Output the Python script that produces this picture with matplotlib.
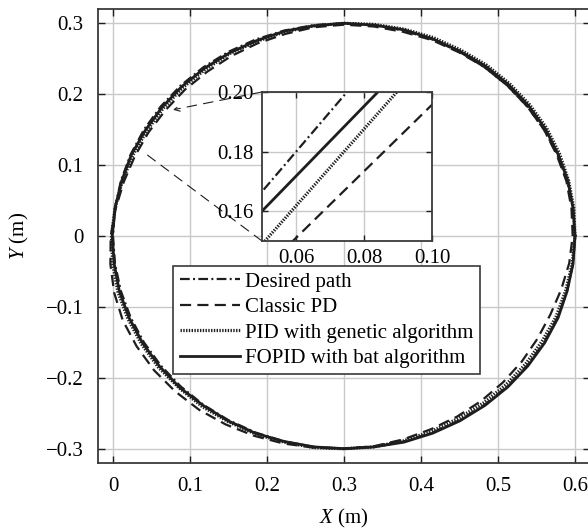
import numpy as np
import matplotlib
matplotlib.use("Agg")
import matplotlib.pyplot as plt
from matplotlib.ticker import FixedLocator, FuncFormatter

plt.rcParams.update({
    "font.family": ["Liberation Serif", "DejaVu Serif"],
    "font.size": 15,
    "mathtext.fontset": "custom",
    "mathtext.rm": "Liberation Serif",
    "mathtext.it": "Liberation Serif:italic",
    "axes.unicode_minus": True,
    "lines.scale_dashes": False,
})

# ---- reference circle ----
center_x, center_y = 0.30, 0.00
desired_radius = 0.30
angle_step_deg = 7.5  # sampling step of the tracked paths (counter-clockwise from +X)

# ---- radial tracking error of each controller, mm, one value per sample angle ----
pd_error_mm = [-3, -2, -1, -1, 0, 0, 0, 0, -1, -1, -2, -2,
               -2, -3, -5, -6, -7, -8, -8, -8, -7, -6, -4, -1,
               3, 6, 9, 11, 11, 11, 10, 9, 7, 5, 3, 1,
               0, -1, -3, -5, -6, -7, -8, -9, -10, -10, -8, -5]
ga_pid_error_mm = [0, 1, 2, 3, 4, 4, 4, 4, 3, 3, 2, 1,
                   0, -1, -2, -3, -3, -4, -4, -4, -4, -3, -2, 0,
                   2, 3, 4, 4, 4, 4, 3, 3, 2, 2, 1, 1,
                   0, 0, -1, -2, -3, -3, -3, -3, -3, -2, -2, -1]
bat_fopid_error_mm = [0, 0, 1, 1, 2, 2, 2, 2, 1, 1, 1, 0,
                      0, -1, -1, -2, -2, -2, -2, -2, -2, -1, -1, 0,
                      1, 1, 2, 2, 2, 2, 2, 1, 1, 1, 0, 0,
                      0, 0, 1, 1, 1, 1, 1, 1, 1, 1, 0, 0]

# ---- zoom window: path heights at the window's side positions ----
zoom_x = [0.04, 0.11]
zoom_desired_y = [0.1532, 0.2468]
zoom_pd_y = [0.1287, 0.2069]
zoom_ga_pid_y = [0.1360, 0.2262]
zoom_bat_fopid_y = [0.1483, 0.2304]

labels = ["Desired path", "Classic PD",
          "PID with genetic algorithm", "FOPID with bat algorithm"]

x_ticks = [0, 0.1, 0.2, 0.3, 0.4, 0.5, 0.6]
y_ticks = [-0.3, -0.2, -0.1, 0, 0.1, 0.2, 0.3]
zoom_x_ticks = [0.06, 0.08, 0.10]
zoom_y_ticks = [0.16, 0.18, 0.20]

ink = "#1e1e1e"
grid_c = "#c9c9c9"
styles = [
    dict(lw=1.6, ls=(0, (7.0, 2.4, 1.4, 2.4))),
    dict(lw=1.6, ls=(0, (8.0, 4.5))),
    dict(lw=2.3, ls=(0, (1.0, 1.0)), dash_capstyle="butt"),
    dict(lw=2.0, ls="-"),
]


def closed_path(error_mm):
    err = np.asarray(error_mm, dtype=float) / 1000.0
    theta = np.deg2rad(np.arange(len(err)) * angle_step_deg)
    r = desired_radius + err
    x = center_x + r * np.cos(theta)
    y = center_y + r * np.sin(theta)
    return np.append(x, x[0]), np.append(y, y[0])


paths = [closed_path(np.zeros(len(pd_error_mm))),
         closed_path(pd_error_mm),
         closed_path(ga_pid_error_mm),
         closed_path(bat_fopid_error_mm)]


def fmt_main(v, pos):
    s = "%g" % round(v, 3)
    return s.replace("-", "\u2212")


fig = plt.figure(figsize=(5.88, 5.29), dpi=100)
ax = fig.add_axes([97.6 / 588, 66.1 / 529, 492.8 / 588, 453.8 / 529])

for (x, y), st, lab in zip(paths, styles, labels):
    ax.plot(x, y, color=ink, label=lab, **st)

ax.set_xlim(-0.02, 0.62)
ax.set_ylim(-0.32, 0.32)
ax.xaxis.set_major_locator(FixedLocator(x_ticks))
ax.yaxis.set_major_locator(FixedLocator(y_ticks))
ax.xaxis.set_major_formatter(FuncFormatter(fmt_main))
ax.yaxis.set_major_formatter(FuncFormatter(fmt_main))
ax.tick_params(direction="in", length=5, width=1.0, color=ink, pad=10,
               top=True, right=True, labelsize=15)
ax.grid(True, color=grid_c, lw=1.0)
ax.set_axisbelow(True)
for sp in ax.spines.values():
    sp.set_color("#3a3a3a")
    sp.set_linewidth(1.3)
ax.set_xlabel(r"$\mathit{X}$ (m)", fontsize=15, labelpad=8)
ax.set_ylabel(r"$\mathit{Y}$ (m)", fontsize=15, labelpad=11)

leg = ax.legend(loc="upper left", bbox_to_anchor=(0.154, 0.434),
                borderaxespad=0, fancybox=False, frameon=True,
                edgecolor="#3a3a3a", framealpha=1, fontsize=15,
                handlelength=2.9, handletextpad=0.25, labelspacing=0.28,
                borderpad=0.3)
leg.get_frame().set_linewidth(1.2)

# ---- zoomed window ----
axin = fig.add_axes([262 / 588, 288 / 529, 170 / 588, 149 / 529])
for ys, st in zip([zoom_desired_y, zoom_pd_y, zoom_ga_pid_y, zoom_bat_fopid_y], styles):
    axin.plot(zoom_x, ys, color=ink, **st)
axin.set_xlim(0.05, 0.10)
axin.set_ylim(0.15, 0.20)
axin.xaxis.set_major_locator(FixedLocator(zoom_x_ticks))
axin.yaxis.set_major_locator(FixedLocator(zoom_y_ticks))
axin.xaxis.set_major_formatter(FuncFormatter(lambda v, p: "%.2f" % v))
axin.yaxis.set_major_formatter(FuncFormatter(lambda v, p: "%.2f" % v))
axin.tick_params(direction="in", length=4, width=1.0, color=ink, pad=6,
                 top=True, right=True, labelsize=15)
axin.grid(True, color=grid_c, lw=1.0)
axin.set_axisbelow(True)
for sp in axin.spines.values():
    sp.set_color("#3a3a3a")
    sp.set_linewidth(1.3)

# leader lines from the window to the magnified stretch of the paths
ax.annotate("", xy=(0.078, 0.178), xycoords="data",
            xytext=(0, 1), textcoords=axin.transAxes,
            arrowprops=dict(arrowstyle="->", color=ink, lw=0.8,
                            linestyle=(0, (7, 5)), shrinkA=0, shrinkB=0,
                            mutation_scale=10))
ax.annotate("", xy=(0.040, 0.118), xycoords="data",
            xytext=(0, 0), textcoords=axin.transAxes,
            arrowprops=dict(arrowstyle="-", color=ink, lw=0.8,
                            linestyle=(0, (7, 5)), shrinkA=0, shrinkB=0))

fig.savefig("out.png", dpi=100)
